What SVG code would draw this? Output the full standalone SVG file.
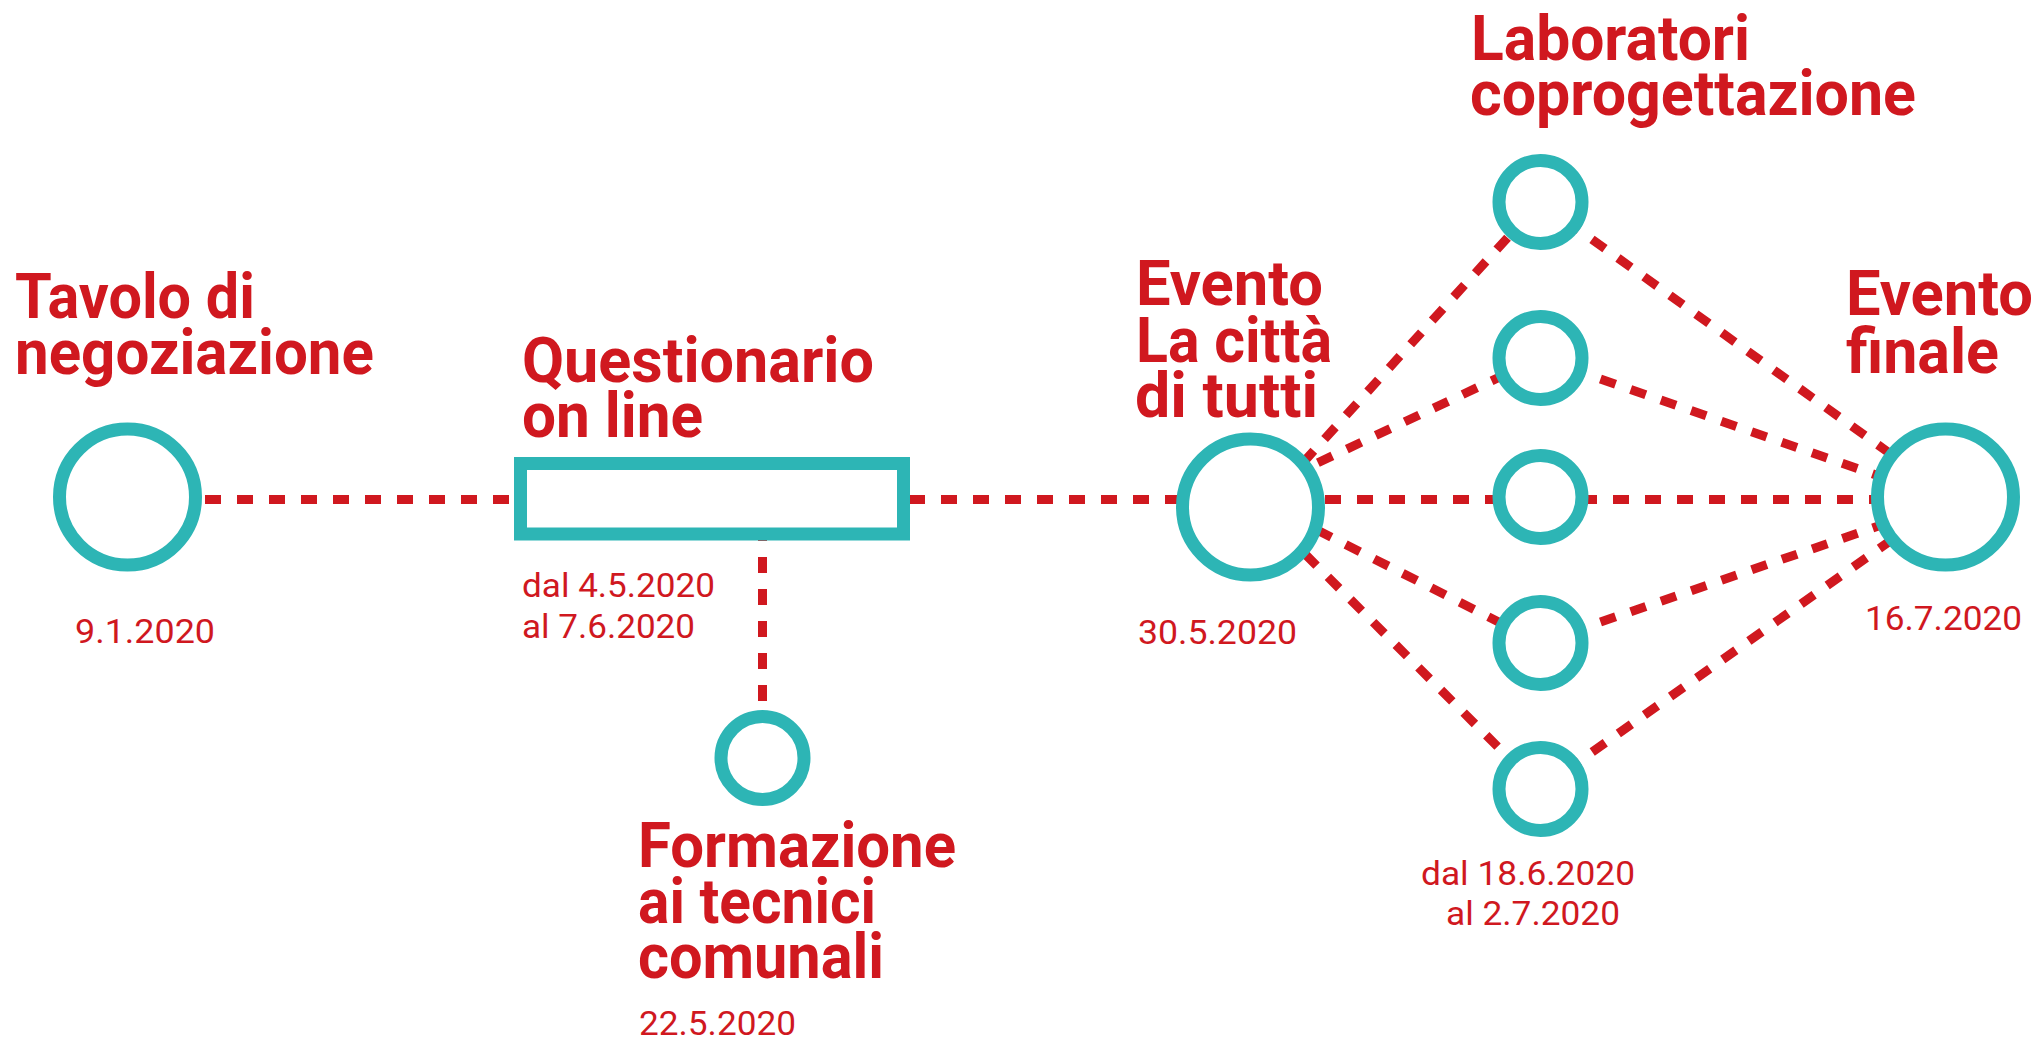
<svg xmlns="http://www.w3.org/2000/svg" width="2038" height="1040" viewBox="0 0 2038 1040">
<style>
.t{font-family:Roboto,"Liberation Sans",sans-serif;font-weight:700;font-size:63px;fill:#D0181F}
.d{font-family:Roboto,"Liberation Sans",sans-serif;font-weight:400;font-size:34px;fill:#D0181F}
.c{fill:#fff;stroke:#2DB5B5;stroke-width:13}
.l{stroke:#D0181F;stroke-width:9;stroke-dasharray:16 16;fill:none}
</style>
<rect width="2038" height="1040" fill="#fff"/>
<g id="connectors">
<line class="l" x1="205" y1="499.5" x2="1945" y2="499.5"/>
<line class="l" x1="762.5" y1="525" x2="762.5" y2="712"/>
<line class="l" x1="1260" y1="510" x2="1540" y2="202"/>
<line class="l" x1="1260" y1="490" x2="1540" y2="358"/>
<line class="l" x1="1260" y1="501" x2="1540" y2="643"/>
<line class="l" x1="1260" y1="509" x2="1540" y2="789"/>
<line class="l" x1="1540" y1="202" x2="1945" y2="493"/>
<line class="l" x1="1540" y1="358" x2="1945" y2="499"/>
<line class="l" x1="1540" y1="643" x2="1945" y2="503"/>
<line class="l" x1="1540" y1="789" x2="1945" y2="502"/>
</g>
<g id="tavolo">
<circle class="c" cx="127.5" cy="497" r="68"/>
<text class="t"><tspan x="15" y="318" textLength="240" lengthAdjust="spacingAndGlyphs">Tavolo di</tspan><tspan x="15" y="374" textLength="359" lengthAdjust="spacingAndGlyphs">negoziazione</tspan></text>
<text class="d" x="75" y="643" textLength="140" lengthAdjust="spacingAndGlyphs">9.1.2020</text>
</g>
<g id="questionario">
<rect class="c" x="520.5" y="463.5" width="383" height="70.5"/>
<text class="t"><tspan x="522" y="381.5" textLength="352" lengthAdjust="spacingAndGlyphs">Questionario</tspan><tspan x="522" y="436.5" textLength="181" lengthAdjust="spacingAndGlyphs">on line</tspan></text>
<text class="d"><tspan x="522" y="597" textLength="193" lengthAdjust="spacingAndGlyphs">dal 4.5.2020</tspan><tspan x="522" y="638" textLength="173" lengthAdjust="spacingAndGlyphs">al 7.6.2020</tspan></text>
</g>
<g id="formazione">
<circle class="c" cx="762.5" cy="758" r="41.5"/>
<text class="t"><tspan x="638" y="867" textLength="318" lengthAdjust="spacingAndGlyphs">Formazione</tspan><tspan x="638" y="923" textLength="238" lengthAdjust="spacingAndGlyphs">ai tecnici</tspan><tspan x="638" y="978" textLength="246" lengthAdjust="spacingAndGlyphs">comunali</tspan></text>
<text class="d" x="639" y="1035" textLength="157" lengthAdjust="spacingAndGlyphs">22.5.2020</text>
</g>
<g id="evento-citta">
<circle class="c" cx="1250.5" cy="507" r="68"/>
<text class="t"><tspan x="1136" y="305" textLength="187" lengthAdjust="spacingAndGlyphs">Evento</tspan><tspan x="1136" y="361.5" textLength="196" lengthAdjust="spacingAndGlyphs">La città</tspan><tspan x="1135" y="416.5" textLength="183" lengthAdjust="spacingAndGlyphs">di tutti</tspan></text>
<text class="d" x="1138" y="644" textLength="159" lengthAdjust="spacingAndGlyphs">30.5.2020</text>
</g>
<g id="laboratori">
<circle class="c" cx="1540.5" cy="202" r="41.5"/>
<circle class="c" cx="1540.5" cy="358" r="41.5"/>
<circle class="c" cx="1540.5" cy="497" r="41.5"/>
<circle class="c" cx="1540.5" cy="643" r="41.5"/>
<circle class="c" cx="1540.5" cy="789" r="41.5"/>
<text class="t"><tspan x="1471" y="60" textLength="279" lengthAdjust="spacingAndGlyphs">Laboratori</tspan><tspan x="1470" y="115" textLength="446" lengthAdjust="spacingAndGlyphs">coprogettazione</tspan></text>
<text class="d"><tspan x="1421" y="885" textLength="214" lengthAdjust="spacingAndGlyphs">dal 18.6.2020</tspan><tspan x="1446" y="925" textLength="174" lengthAdjust="spacingAndGlyphs">al 2.7.2020</tspan></text>
</g>
<g id="evento-finale">
<circle class="c" cx="1945.5" cy="497" r="68"/>
<text class="t"><tspan x="1846" y="315" textLength="187" lengthAdjust="spacingAndGlyphs">Evento</tspan><tspan x="1846" y="372.5" textLength="153" lengthAdjust="spacingAndGlyphs">finale</tspan></text>
<text class="d" x="1865" y="630" textLength="157" lengthAdjust="spacingAndGlyphs">16.7.2020</text>
</g>
</svg>
